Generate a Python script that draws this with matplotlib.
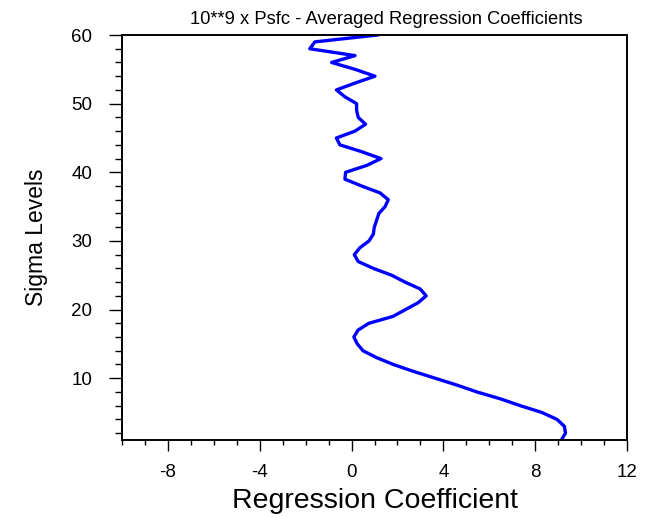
import matplotlib
matplotlib.use('Agg')
import numpy as np
import matplotlib.pyplot as plt
from matplotlib.ticker import MultipleLocator

# sigma levels 1..60 and averaged regression coefficient (x 10**9 Psfc)
levels = np.arange(1, 61)
coef = [9.14, 9.32, 9.27, 8.95, 8.30, 7.35, 6.48, 5.46, 4.59, 3.64,
        2.69, 1.82, 1.09, 0.50, 0.25, 0.10, 0.28, 0.75, 1.80, 2.35,
        2.90, 3.25, 2.99, 2.33, 1.75, 0.95, 0.29, 0.12, 0.36, 0.76,
        0.95, 0.99, 1.09, 1.19, 1.46, 1.60, 1.24, 0.44, -0.29, -0.26,
        0.66, 1.28, 0.44, -0.51, -0.66, 0.15, 0.61, 0.29, 0.22, 0.22,
        -0.29, -0.66, 0.15, 1.02, 0.15, -0.87, 0.15, -1.82, -1.60, 1.13]

plt.rcParams['font.family'] = ['Liberation Sans', 'DejaVu Sans']
plt.rcParams['axes.unicode_minus'] = False

fig = plt.figure(figsize=(6.46, 5.18), dpi=100)
ax = fig.add_axes([0.1889, 0.1506, 0.7817, 0.7818])
ax.plot(coef, levels, color='#0000ff', lw=2.4, solid_joinstyle='round')

ax.set_xlim(-10, 12)
ax.set_ylim(1, 60)
ax.set_xticks([-8, -4, 0, 4, 8, 12])
ax.xaxis.set_minor_locator(MultipleLocator(1))
ax.set_yticks([10, 20, 30, 40, 50, 60])
ax.yaxis.set_minor_locator(MultipleLocator(2))
ax.tick_params(which='both', direction='out', top=False, right=False, width=1.0,
               labelsize=13.5)
ax.tick_params(axis='x', which='major', length=8, pad=9)
ax.tick_params(axis='x', which='minor', length=3.8)
ax.tick_params(axis='y', which='major', length=9.5, pad=12)
ax.tick_params(axis='y', which='minor', length=5)
for s in ax.spines.values():
    s.set_linewidth(1.4)

ax.set_xlabel('Regression Coefficient', fontsize=20.5, labelpad=5)
ax.set_ylabel('Sigma Levels', fontsize=16.5, labelpad=17)
fig.text(0.598, 0.962, '10**9 x Psfc - Averaged Regression Coefficients',
         ha='center', va='center', fontsize=13.2)

fig.savefig('out.png', dpi=100)
